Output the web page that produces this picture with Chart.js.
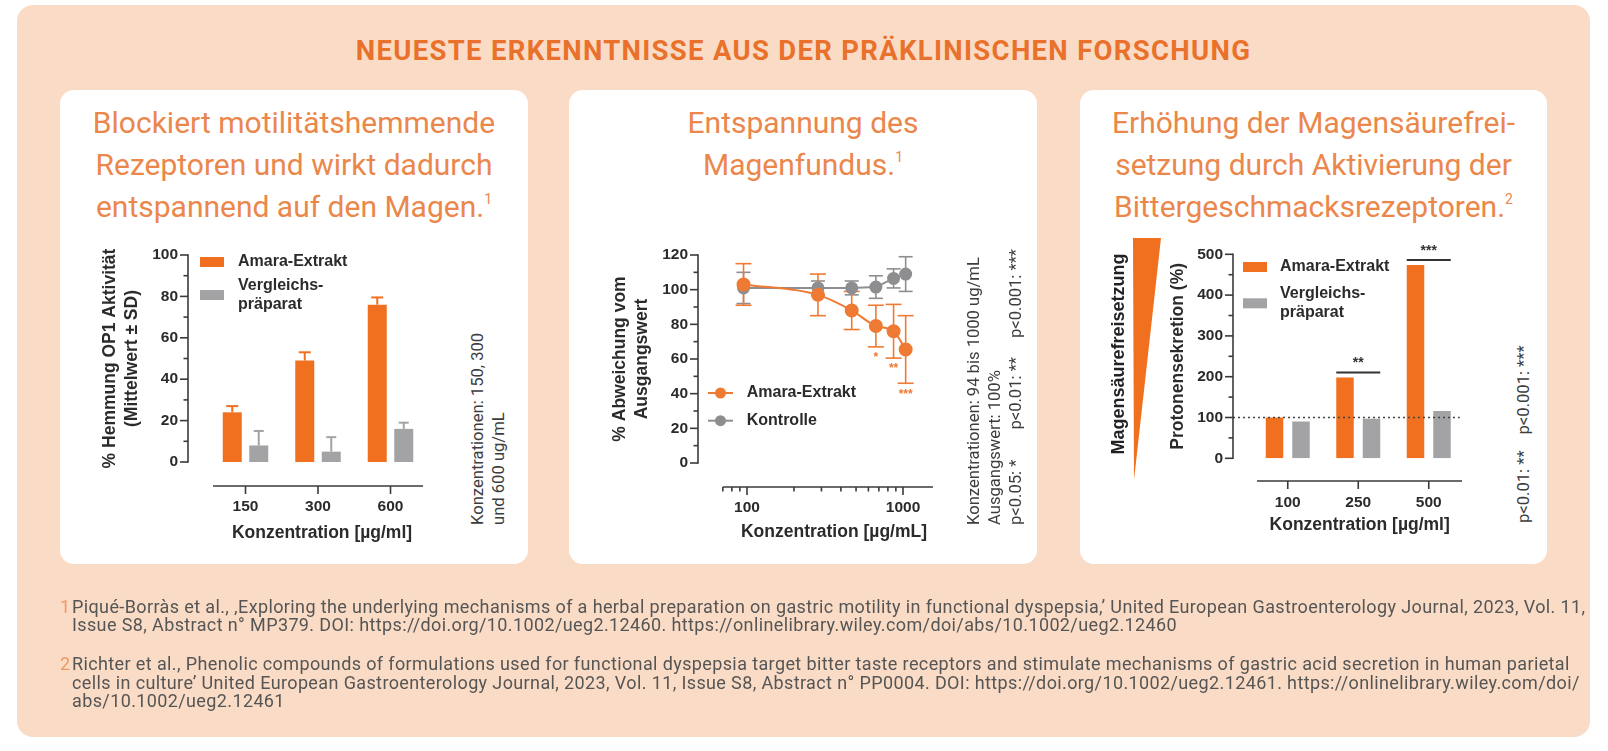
<!DOCTYPE html>
<html><head><meta charset="utf-8">
<script src="https://cdn.jsdelivr.net/npm/chart.js@4.4.1/dist/chart.umd.min.js"></script>
<style>
html,body{margin:0;padding:0;background:#fff;}
body{width:1608px;height:751px;position:relative;overflow:hidden;font-family:Roboto,"Open Sans",sans-serif;}
#panel{position:absolute;left:17px;top:5px;width:1573px;height:732px;background:#FADCC6;border-radius:16px;}
#title{position:absolute;left:17px;width:1573px;top:36px;line-height:30px;text-align:center;font-family:Roboto;font-weight:700;font-size:27.5px;letter-spacing:1.3px;color:#E9712B;white-space:nowrap;}
.card{position:absolute;top:90px;height:474px;background:#fff;border-radius:14px;}
.ctitle{position:absolute;top:102px;text-align:center;font-family:Roboto;font-weight:400;font-size:30px;line-height:42px;color:#EB874B;white-space:nowrap;}
.ctitle sup{font-size:14px;line-height:0;vertical-align:13px;}
canvas{position:absolute;}
.rot{position:absolute;transform-origin:0 0;transform:rotate(-90deg);font-family:Roboto;font-weight:400;font-size:16.6px;line-height:21px;color:#3d3d3d;white-space:nowrap;}
.rot span{display:inline-block;}
#mag{position:absolute;left:1008px;top:343px;width:220px;height:22px;line-height:22px;text-align:center;transform:rotate(-90deg);font-family:"Liberation Sans",Arial,sans-serif;font-weight:700;font-size:18px;color:#222;white-space:nowrap;}
.fn{position:absolute;left:72px;font-family:Roboto;font-size:18px;letter-spacing:0.38px;line-height:18.5px;color:#555;white-space:nowrap;}
.fn .n{position:absolute;left:-12px;top:0;color:#EE9A62;}
</style>
</head><body>
<div id="panel"></div>
<div id="title">NEUESTE ERKENNTNISSE AUS DER PRÄKLINISCHEN FORSCHUNG</div>

<div class="card" style="left:60px;width:468px;"></div>
<div class="card" style="left:569px;width:468px;"></div>
<div class="card" style="left:1080px;width:467px;"></div>

<div class="ctitle" style="left:60px;width:468px;">Blockiert motilitätshemmende<br>Rezeptoren und wirkt dadurch<br>entspannend auf den Magen.<sup>1</sup></div>
<div class="ctitle" style="left:569px;width:468px;">Entspannung des<br>Magenfundus.<sup>1</sup></div>
<div class="ctitle" style="left:1080px;width:467px;">Erhöhung der Magensäurefrei-<br>setzung durch Aktivierung der<br>Bittergeschmacksrezeptoren.<sup>2</sup></div>

<canvas id="c1" width="400" height="320" style="left:60px;top:235px;"></canvas>
<canvas id="c2" width="410" height="320" style="left:570px;top:235px;"></canvas>
<canvas id="c3" width="345" height="330" style="left:1150px;top:225px;"></canvas>

<div class="rot" style="left:466.5px;top:525px;">Konzentrationen: 150, 300<br>und 600 ug/mL</div>
<div class="rot" style="left:962.5px;top:525px;">Konzentrationen: 94 bis 1000 ug/mL<br>Ausgangswert: 100%<br><span style="margin-right:30px">p&lt;0.05: *</span><span style="margin-right:19px">p&lt;0.01: **</span><span>p&lt;0.001: ***</span></div>
<div class="rot" style="left:1512.5px;top:523px;"><span style="margin-right:16px">p&lt;0.01: **</span><span>p&lt;0.001: ***</span></div>

<svg style="position:absolute;left:0;top:0;" width="1608" height="751"><polygon points="1133,238 1161,238 1134,480" fill="#F07020"/></svg>
<div id="mag">Magensäurefreisetzung</div>

<div class="fn" style="top:597.5px;"><span class="n">1</span>Piqué-Borràs et al., ‚Exploring the underlying mechanisms of a herbal preparation on gastric motility in functional dyspepsia,’ United European Gastroenterology Journal, 2023, Vol. 11,<br>Issue S8, Abstract n° MP379. DOI: https://doi.org/10.1002/ueg2.12460. https://onlinelibrary.wiley.com/doi/abs/10.1002/ueg2.12460</div>
<div class="fn" style="top:655px;"><span class="n">2</span>Richter et al., Phenolic compounds of formulations used for functional dyspepsia target bitter taste receptors and stimulate mechanisms of gastric acid secretion in human parietal<br>cells in culture’ United European Gastroenterology Journal, 2023, Vol. 11, Issue S8, Abstract n° PP0004. DOI: https://doi.org/10.1002/ueg2.12461. https://onlinelibrary.wiley.com/doi/<br>abs/10.1002/ueg2.12461</div>

<script>
// ---------- data ----------
const conc1 = ['150', '300', '600'];
const amara1 = [24, 49, 76];
const amara1SD = [3, 4, 3.5];
const vergl1 = [8, 5, 16];
const vergl1SD = [7, 7, 3];

const conc2 = [95, 285, 469, 670, 870, 1040];
const amara2 = [103, 97, 88, 79, 76, 65.5];
const amara2Err = [12, 12, 11, 12, 15.5, 19.5];
const kontrolle2 = [101, 101, 101, 101.5, 106.5, 109];
const kontrolle2Err = [9, 4, 4, 6.5, 5.5, 10];
const sig2 = ['', '', '', '*', '**', '***'];
const xTicks2 = [100, 1000];

const conc3 = ['100', '250', '500'];
const amara3 = [100, 198, 474];
const vergl3 = [90, 97, 116];
const sig3 = ['', '**', '***'];
const baseline3 = 100;

// ---------- styles ----------
const ORANGE = '#F0701F', GRAY = '#A3A3A6', ORANGE2 = '#EF7A34', GRAY2 = '#8E8E91';
const AXIS = '#3a3a3a', TXT = '#2b2b2b';
const FAM = '"Liberation Sans", Arial, sans-serif';
Chart.defaults.font.family = FAM;
Chart.defaults.color = TXT;

function seg(ctx, x1, y1, x2, y2) { ctx.beginPath(); ctx.moveTo(x1, y1); ctx.lineTo(x2, y2); ctx.stroke(); }

function prismAxes(o) {
  return { id: 'prismAxes', afterDraw(chart) {
    const { ctx, chartArea: a, scales: { x, y } } = chart;
    ctx.save(); ctx.strokeStyle = AXIS; ctx.lineWidth = 1.6;
    const yb = y.getPixelForValue(y.min), yt = y.getPixelForValue(y.max);
    seg(ctx, a.left, yb + 0.8, a.left, yt - 0.8);
    const n = Math.round((y.max - y.min) / o.yMinor);
    for (let i = 0; i <= n; i++) {
      const v = y.min + i * o.yMinor;
      const major = Math.abs(v / o.yMajor - Math.round(v / o.yMajor)) < 1e-6;
      const p = y.getPixelForValue(v);
      seg(ctx, a.left - (major ? 8 : 4.5), p, a.left, p);
    }
    const xb = a.bottom + o.xGap;
    seg(ctx, x.getPixelForValue(o.xFrom), xb, x.getPixelForValue(o.xTo), xb);
    x.ticks.forEach(t => { const p = x.getPixelForValue(t.value); seg(ctx, p, xb, p, xb + 8); });
    (o.xMinor || []).forEach(v => { const p = x.getPixelForValue(v); seg(ctx, p, xb, p, xb + 4.5); });
    ctx.restore();
  } };
}

function errorBars(sets, under) {
  const draw = (chart) => {
    const { ctx, scales: { y } } = chart;
    sets.forEach(s => {
      const meta = chart.getDatasetMeta(s.index), ds = chart.data.datasets[s.index];
      ctx.save(); ctx.strokeStyle = s.color; ctx.lineWidth = s.width;
      meta.data.forEach((el, j) => {
        const v = ds.data[j].y, e = s.err[j];
        const top = y.getPixelForValue(v + e);
        const bot = s.twoSided ? y.getPixelForValue(v - e) : el.y;
        seg(ctx, el.x, bot, el.x, top);
        seg(ctx, el.x - s.cap / 2, top, el.x + s.cap / 2, top);
        if (s.twoSided) seg(ctx, el.x - s.cap / 2, bot, el.x + s.cap / 2, bot);
      });
      ctx.restore();
    });
  };
  return { id: 'errorBars', beforeDatasetsDraw(c) { if (under) draw(c); }, afterDatasetsDraw(c) { if (!under) draw(c); } };
}

function manualLegend(cfg) {
  return { id: 'manualLegend', afterDraw(chart) {
    const { ctx, chartArea: a } = chart;
    ctx.save(); ctx.font = 'bold 16px ' + FAM; ctx.textBaseline = 'middle'; ctx.textAlign = 'left';
    chart.data.datasets.forEach((ds, i) => {
      const cy = a.top + cfg.rows[i];
      if (cfg.kind === 'box') {
        ctx.fillStyle = ds.backgroundColor;
        ctx.fillRect(a.left + cfg.sx, cy - 5, 24, 10);
      } else {
        ctx.strokeStyle = ds.borderColor; ctx.lineWidth = 2;
        seg(ctx, a.left + cfg.sx, cy, a.left + cfg.sx + 25, cy);
        ctx.fillStyle = ds.borderColor; ctx.beginPath(); ctx.arc(a.left + cfg.sx + 12.5, cy, 5.5, 0, Math.PI * 2); ctx.fill();
      }
      const lines = ds.label.split('\n');
      ctx.fillStyle = TXT;
      lines.forEach((t, k) => ctx.fillText(t, a.left + cfg.tx, cy + (k - (lines.length - 1) / 2) * 19.5));
    });
    ctx.restore();
  } };
}

function titleFont() { return { size: 17.5, weight: 'bold', lineHeight: 1.25 }; }
function tickFont() { return { size: 15.5, weight: 'bold' }; }
const noGrid = { display: false, drawTicks: false, tickLength: 0 };

// ---------- chart 1 ----------
new Chart(document.getElementById('c1'), {
  type: 'bar',
  data: { datasets: [
    { label: 'Amara-Extrakt', data: amara1.map((v, i) => ({ x: i, y: v })), backgroundColor: ORANGE, categoryPercentage: 0.731, barPercentage: 0.717 },
    { label: 'Vergleichs-\npräparat', data: vergl1.map((v, i) => ({ x: i, y: v })), backgroundColor: GRAY, categoryPercentage: 0.731, barPercentage: 0.717 }
  ] },
  options: {
    responsive: false, animation: false, events: [],
    layout: { padding: { left: 0, top: 20, right: 4, bottom: 8 } },
    plugins: { legend: { display: false }, tooltip: { enabled: false } },
    scales: {
      x: { type: 'linear', offset: false, min: -0.7931, max: 2.9034,
        afterFit: s => { s.height = 85; },
        afterBuildTicks: s => { s.ticks = conc1.map((c, i) => ({ value: i })); },
        ticks: { callback: v => conc1[v], padding: 35.4, font: tickFont(), maxRotation: 0, autoSkip: false },
        grid: noGrid, border: { display: false },
        title: { display: true, text: 'Konzentration [µg/ml]', font: titleFont(), padding: { top: 0, bottom: 3.1 } } },
      y: { min: 0, max: 100,
        afterFit: s => { s.width = 128; },
        ticks: { stepSize: 20, padding: 10, font: tickFont() },
        grid: noGrid, border: { display: false },
        title: { display: true, text: ['% Hemmung OP1 Aktivität', '(Mittelwert ± SD)'], font: titleFont(), padding: { top: 39, bottom: 0 } } }
    }
  },
  plugins: [
    prismAxes({ yMinor: 10, yMajor: 20, xGap: 24, xFrom: -0.448, xTo: 2.448 }),
    errorBars([{ index: 0, err: amara1SD, color: ORANGE, width: 2, cap: 12 }, { index: 1, err: vergl1SD, color: GRAY, width: 2, cap: 10 }], false),
    manualLegend({ kind: 'box', rows: [7, 40], sx: 12, tx: 50 })
  ]
});

// ---------- chart 2 ----------
const minor2 = [];
[10, 100].forEach(d => { for (let m = 2; m <= 9; m++) { const v = m * d; if (v >= 70 && v <= 1556 && v !== 100) minor2.push(v); } });
new Chart(document.getElementById('c2'), {
  type: 'line',
  data: { datasets: [
    { label: 'Amara-Extrakt', data: conc2.map((c, i) => ({ x: c, y: amara2[i] })), borderColor: ORANGE2, backgroundColor: ORANGE2,
      pointBackgroundColor: ORANGE2, pointBorderColor: ORANGE2, pointRadius: 6, borderWidth: 2, cubicInterpolationMode: 'monotone', tension: 0.4, clip: false },
    { label: 'Kontrolle', data: conc2.map((c, i) => ({ x: c, y: kontrolle2[i] })), borderColor: GRAY2, backgroundColor: GRAY2,
      pointBackgroundColor: GRAY2, pointBorderColor: GRAY2, pointRadius: 5.5, borderWidth: 2, tension: 0, clip: false }
  ] },
  options: {
    responsive: false, animation: false, events: [],
    layout: { padding: { left: 0, top: 20, right: 10, bottom: 7 } },
    plugins: { legend: { display: false }, tooltip: { enabled: false } },
    scales: {
      x: { type: 'logarithmic', offset: false, min: 48.52, max: 2688,
        afterFit: s => { s.height = 85; },
        afterBuildTicks: s => { s.ticks = xTicks2.map(v => ({ value: v })); },
        ticks: { callback: v => String(v), padding: 35.7, font: tickFont(), maxRotation: 0, autoSkip: false },
        grid: noGrid, border: { display: false },
        title: { display: true, text: 'Konzentration [µg/mL]', font: titleFont(), padding: { top: 0, bottom: 4.4 } } },
      y: { min: 0, max: 120,
        afterFit: s => { s.width = 128; },
        ticks: { stepSize: 20, padding: 10, font: tickFont() },
        grid: noGrid, border: { display: false },
        title: { display: true, text: ['% Abweichung vom', 'Ausgangswert'], font: titleFont(), padding: { top: 39, bottom: 0 } } }
    }
  },
  plugins: [
    prismAxes({ yMinor: 10, yMajor: 20, xGap: 24, xFrom: 70, xTo: 1556, xMinor: minor2 }),
    errorBars([{ index: 1, err: kontrolle2Err, color: GRAY2, width: 1.6, cap: 14, twoSided: true }, { index: 0, err: amara2Err, color: ORANGE2, width: 1.6, cap: 16, twoSided: true }], true),
    { id: 'sig2', afterDatasetsDraw(chart) {
      const { ctx, scales: { y } } = chart; const meta = chart.getDatasetMeta(0);
      ctx.save(); ctx.fillStyle = ORANGE2; ctx.font = 'bold 12px ' + FAM; ctx.textAlign = 'center'; ctx.textBaseline = 'middle';
      sig2.forEach((s, j) => { if (s) ctx.fillText(s, meta.data[j].x, y.getPixelForValue(amara2[j] - amara2Err[j]) + 11); });
      ctx.restore();
    } },
    manualLegend({ kind: 'line', rows: [138, 165.7], sx: 10, tx: 48.7 })
  ]
});

// ---------- chart 3 ----------
new Chart(document.getElementById('c3'), {
  type: 'bar',
  data: { datasets: [
    { label: 'Amara-Extrakt', data: amara3.map((v, i) => ({ x: i, y: v })), backgroundColor: ORANGE, categoryPercentage: 0.752, barPercentage: 0.66 },
    { label: 'Vergleichs-\npräparat', data: vergl3.map((v, i) => ({ x: i, y: v })), backgroundColor: GRAY, categoryPercentage: 0.752, barPercentage: 0.66 }
  ] },
  options: {
    responsive: false, animation: false, events: [],
    layout: { padding: { left: 0, top: 29.3, right: 8.6, bottom: 11.7 } },
    plugins: { legend: { display: false }, tooltip: { enabled: false } },
    scales: {
      x: { type: 'linear', offset: false, min: -0.7766, max: 2.8177,
        afterFit: s => { s.height = 85; },
        afterBuildTicks: s => { s.ticks = conc3.map((c, i) => ({ value: i })); },
        ticks: { callback: v => conc3[v], padding: 35.1, font: tickFont(), maxRotation: 0, autoSkip: false },
        grid: noGrid, border: { display: false },
        title: { display: true, text: 'Konzentration [µg/ml]', font: titleFont(), padding: { top: 0, bottom: 7.4 } } },
      y: { min: 0, max: 500,
        afterFit: s => { s.width = 83; },
        ticks: { stepSize: 100, padding: 10, font: tickFont() },
        grid: noGrid, border: { display: false },
        title: { display: true, text: 'Protonensekretion (%)', font: titleFont(), padding: { top: 17, bottom: 0 } } }
    }
  },
  plugins: [
    prismAxes({ yMinor: 50, yMajor: 100, xGap: 22.7, xFrom: -0.436, xTo: 2.472 }),
    { id: 'sig3', afterDatasetsDraw(chart) {
      const { ctx, chartArea: a, scales: { x, y } } = chart;
      const m0 = chart.getDatasetMeta(0), m1 = chart.getDatasetMeta(1);
      ctx.save();
      ctx.strokeStyle = '#444'; ctx.lineWidth = 1.5; ctx.setLineDash([2, 3]);
      const by = y.getPixelForValue(baseline3);
      seg(ctx, a.left, by, x.getPixelForValue(2.44), by);
      ctx.setLineDash([]); ctx.strokeStyle = '#333'; ctx.lineWidth = 2;
      ctx.fillStyle = '#333'; ctx.font = 'bold 14px ' + FAM; ctx.textAlign = 'center'; ctx.textBaseline = 'middle';
      sig3.forEach((s, j) => {
        if (!s) return;
        const b0 = m0.data[j], b1 = m1.data[j];
        const l = b0.x - b0.width / 2, r = b1.x + b1.width / 2, ly = Math.min(b0.y, b1.y) - 5;
        seg(ctx, l, ly, r, ly);
        ctx.fillText(s, (l + r) / 2, ly - 9);
      });
      ctx.restore();
    } },
    manualLegend({ kind: 'box', rows: [12.7, 49], sx: 10, tx: 47 })
  ]
});
</script>
</body></html>
